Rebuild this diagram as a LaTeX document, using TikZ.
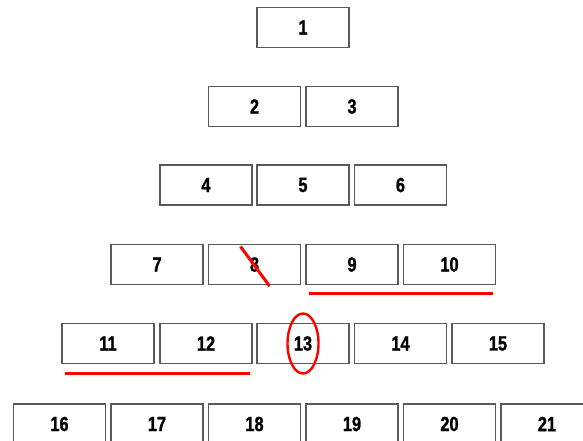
\documentclass[tikz,border=0pt]{standalone}
\usepackage{fontspec}
\setmainfont{Liberation Sans}[FakeStretch=0.8, BoldFeatures={FakeBold=1.2}]
\usepackage{tikz}
\usetikzlibrary{positioning,shapes.geometric}

\tikzset{
  cell/.style={draw=black!65, line width=1.3pt, fill=white, minimum width=92pt,
    minimum height=40pt, inner sep=0pt, font=\fontsize{20.5}{20.5}\selectfont\bfseries},
  markline/.style={red, line width=3pt}
}

\begin{document}
\begin{tikzpicture}[x=1pt, y=-1pt]
    \useasboundingbox (0,0) rectangle (583,441);

    % top of the triangle
    \node[cell] (n1) at (303, 27.5) {1};

    \node[cell] (n2) at (254.5, 106.5) {2};
    \node[cell] (n3) at (352, 106.5) {3};

    \node[cell] (n4) at (206, 185) {4};
    \node[cell] (n5) at (303, 185) {5};
    \node[cell] (n6) at (400.5, 185) {6};

    \node[cell] (n7) at (157, 264.5) {7};
    \node[cell] (n8) at (254.5, 264.5) {8};
    \node[cell] (n9) at (352, 264.5) {9};
    \node[cell] (n10) at (449.5, 264.5) {10};

    \node[cell] (n11) at (108, 343.5) {11};
    \node[cell] (n12) at (206, 343.5) {12};
    \node[cell] (n13) at (303, 343.5) {13};
    \node[cell] (n14) at (400.5, 343.5) {14};
    \node[cell] (n15) at (498, 343.5) {15};

    % bottom row, cut by the page
    \node[cell] (n16) at (59.5, 424) {16};
    \node[cell] (n17) at (157, 424) {17};
    \node[cell] (n18) at (254.5, 424) {18};
    \node[cell] (n19) at (352, 424) {19};
    \node[cell] (n20) at (449.5, 424) {20};
    \node[cell] (n21) at (547, 424) {21};

    % red marks
    \draw[markline] (240.5, 246.5) -- (269.5, 286);
    \draw[markline] (309, 293.5) -- (493, 293.5);
    \draw[markline] (65, 373) -- (250, 373);
    \draw[red, line width=2.4pt] (n13.center) ellipse [x radius=15.5, y radius=30];
\end{tikzpicture}
\end{document}
